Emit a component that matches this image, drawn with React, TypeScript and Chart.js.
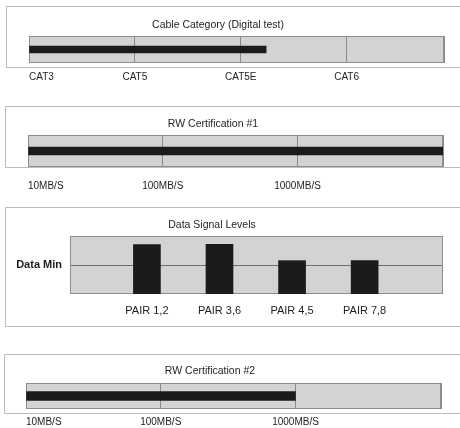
import React, { useEffect, useRef } from 'react';
import { Chart, registerables } from 'chart.js';

Chart.register(...registerables);
Chart.defaults.font.family = '"Liberation Sans", Arial, Helvetica, sans-serif';

// ---- data ----
const CABLE_CATEGORIES = ['CAT3', 'CAT5', 'CAT5E', 'CAT6'];
const CABLE_AXIS_MAX = 3.92;
const CABLE_RESULT = [2.24];

const SPEED_LABELS = ['10MB/S', '100MB/S', '1000MB/S'];
const SPEED_AXIS_MAX = 3.08;
const RW1_RESULT = [3.08];
const RW2_RESULT = [2];

const PAIR_LABELS = ['PAIR 1,2', 'PAIR 3,6', 'PAIR 4,5', 'PAIR 7,8'];
const PAIR_LEVELS = [1.7, 1.71, 1.15, 1.15];
const DATA_MIN = 1;
const LEVEL_AXIS_MAX = 2;

// ---- styles ----
const W = 460;
const PLOT_FILL = '#d3d3d3';
const PLOT_BORDER = '#8e8e8e';
const GRID = '#8a8a8a';
const BOX_BORDER = '#bdbdbd';
const BAR = '#1c1a1a';
const TEXT = '#1e1e1e';

type Box = { x: number; y: number; w: number; h: number };

function makeFrame(box: Box, title: string, titleX: number, titleY: number) {
  return {
    id: 'frame',
    beforeDraw(chart: any) {
      const { ctx, chartArea: a } = chart;
      ctx.save();
      ctx.strokeStyle = BOX_BORDER;
      ctx.lineWidth = 1;
      ctx.strokeRect(box.x + 0.5, box.y + 0.5, box.w, box.h);
      ctx.fillStyle = TEXT;
      ctx.font = '10.5px "Liberation Sans", Arial, sans-serif';
      ctx.textAlign = 'center';
      ctx.textBaseline = 'middle';
      ctx.fillText(title, titleX, titleY);
      ctx.fillStyle = PLOT_FILL;
      ctx.fillRect(a.left, a.top, a.right - a.left, a.bottom - a.top);
      ctx.restore();
    },
    beforeDatasetsDraw(chart: any) {
      const { ctx, chartArea: a } = chart;
      ctx.save();
      ctx.strokeStyle = PLOT_BORDER;
      ctx.lineWidth = 1;
      ctx.strokeRect(Math.round(a.left) + 0.5, Math.round(a.top) + 0.5, Math.round(a.right - a.left) - 1, Math.round(a.bottom - a.top) - 1);
      ctx.restore();
    },
  };
}

type HCfg = {
  top: number;
  height: number;
  title: string;
  titleX: number;
  titleY: number;
  box: Box;
  plot: { l: number; r: number; t: number; b: number };
  tickPad: number;
  labels: string[];
  axisMax: number;
  values: number[];
  thickness: number;
};

function HPanel({ cfg }: { cfg: HCfg }) {
  const ref = useRef<HTMLCanvasElement>(null);
  useEffect(() => {
    if (!ref.current) return;
    const { plot, labels, axisMax, tickPad, height } = cfg;
    const chart = new Chart(ref.current, {
      type: 'bar',
      data: {
        labels: [''],
        datasets: [
          {
            data: cfg.values,
            backgroundColor: BAR,
            borderWidth: 0,
            barThickness: cfg.thickness,
          },
        ],
      },
      options: {
        indexAxis: 'y',
        animation: false,
        responsive: false,
        events: [],
        layout: {
          padding: {
            left: plot.l,
            right: W - plot.r,
            top: plot.t,
            bottom: height - plot.b - (2 * tickPad + 12),
          },
        },
        plugins: {
          legend: { display: false },
          tooltip: { enabled: false },
          title: { display: false },
        },
        scales: {
          x: {
            type: 'linear',
            min: 0,
            max: axisMax,
            afterBuildTicks: (s: any) => {
              s.ticks = [...labels.map((_, i) => ({ value: i })), { value: axisMax }];
            },
            ticks: {
              autoSkip: false,
              align: 'inner',
              padding: tickPad,
              maxRotation: 0,
              color: TEXT,
              font: { size: 10 },
              callback: (_v: any, i: number) => labels[i] ?? '',
            },
            grid: { color: GRID, drawTicks: false, lineWidth: 1 },
            border: { display: false },
          },
          y: { display: false },
        },
      } as any,
      plugins: [makeFrame(cfg.box, cfg.title, cfg.titleX, cfg.titleY)],
    });
    return () => chart.destroy();
  }, []);
  return (
    <canvas
      ref={ref}
      width={W}
      height={cfg.height}
      style={{ position: 'absolute', left: 0, top: cfg.top, width: W, height: cfg.height }}
    />
  );
}

function LevelPanel() {
  const ref = useRef<HTMLCanvasElement>(null);
  const H = 130;
  useEffect(() => {
    if (!ref.current) return;
    const chart = new Chart(ref.current, {
      type: 'bar',
      data: {
        datasets: [
          {
            data: PAIR_LEVELS.map((v, i) => ({ x: i, y: v })),
            backgroundColor: BAR,
            borderWidth: 0,
            barThickness: 27,
          },
        ],
      },
      options: {
        animation: false,
        responsive: false,
        events: [],
        layout: { padding: { left: 8, right: W - 443, top: 36, bottom: H - 102 - (2 * 2 + 13.2) } },
        plugins: {
          legend: { display: false },
          tooltip: { enabled: false },
          title: { display: false },
        },
        scales: {
          x: {
            type: 'linear',
            min: -1.06,
            max: 4.08,
            offset: false,
            afterBuildTicks: (s: any) => {
              s.ticks = PAIR_LABELS.map((_, i) => ({ value: i }));
            },
            ticks: {
              autoSkip: false,
              maxRotation: 0,
              padding: 2,
              color: TEXT,
              font: { size: 11 },
              callback: (v: any) => PAIR_LABELS[Math.round(v)] ?? '',
            },
            grid: { display: false, offset: false },
            border: { display: false },
          },
          y: {
            type: 'linear',
            min: 0,
            max: LEVEL_AXIS_MAX,
            afterBuildTicks: (s: any) => {
              s.ticks = [{ value: DATA_MIN }];
            },
            afterFit: (s: any) => {
              s.width = 62;
            },
            ticks: {
              padding: 8,
              color: TEXT,
              font: { size: 11, weight: 'bold' },
              callback: () => 'Data Min',
            },
            grid: { color: '#707070', drawTicks: false, lineWidth: 1 },
            border: { display: false },
          },
        },
      } as any,
      plugins: [makeFrame({ x: 5, y: 7, w: 480, h: 119 }, 'Data Signal Levels', 212, 25)],
    });
    return () => chart.destroy();
  }, []);
  return (
    <canvas
      ref={ref}
      width={W}
      height={H}
      style={{ position: 'absolute', left: 0, top: 200, width: W, height: H }}
    />
  );
}

const PANEL_CABLE: HCfg = {
  top: 0,
  height: 100,
  title: 'Cable Category (Digital test)',
  titleX: 218,
  titleY: 25,
  box: { x: 6, y: 6, w: 480, h: 61 },
  plot: { l: 29, r: 444, t: 36, b: 62 },
  tickPad: 8,
  labels: CABLE_CATEGORIES,
  axisMax: CABLE_AXIS_MAX,
  values: CABLE_RESULT,
  thickness: 7,
};

const PANEL_RW1: HCfg = {
  top: 100,
  height: 100,
  title: 'RW Certification #1',
  titleX: 213,
  titleY: 24,
  box: { x: 5, y: 6, w: 480, h: 61 },
  plot: { l: 28, r: 443, t: 35, b: 61 },
  tickPad: 13,
  labels: SPEED_LABELS,
  axisMax: SPEED_AXIS_MAX,
  values: RW1_RESULT,
  thickness: 8,
};

const PANEL_RW2: HCfg = {
  top: 330,
  height: 98,
  title: 'RW Certification #2',
  titleX: 210,
  titleY: 41,
  box: { x: 4, y: 24, w: 480, h: 59 },
  plot: { l: 26, r: 441, t: 53, b: 79 },
  tickPad: 7,
  labels: SPEED_LABELS,
  axisMax: SPEED_AXIS_MAX,
  values: RW2_RESULT,
  thickness: 9,
};

export default function App() {
  return (
    <div
      style={{
        position: 'absolute',
        left: 0,
        top: 0,
        width: W,
        height: 428,
        overflow: 'hidden',
        background: '#fff',
      }}
    >
      <HPanel cfg={PANEL_CABLE} />
      <HPanel cfg={PANEL_RW1} />
      <LevelPanel />
      <HPanel cfg={PANEL_RW2} />
    </div>
  );
}
